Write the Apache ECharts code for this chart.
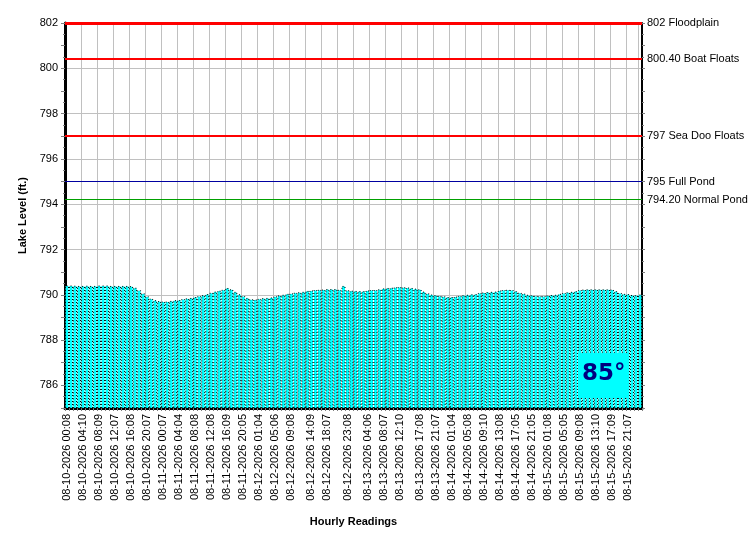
<!DOCTYPE html>
<html lang="en" style="height: 100%">
<head>
  <meta charset="utf-8">
</head>
<body style="height: 100%; margin: 0; background: #fff">
  <div id="container" style="width: 750px; height: 550px"></div>

  <script type="text/javascript" src="https://cdn.jsdelivr.net/npm/echarts@6/dist/echarts.min.js"></script>

  <script type="text/javascript">
    // hourly lake level readings (ft.)
    var lakeLevel = [
      790.41, 790.41, 790.40, 790.39, 790.39, 790.40, 790.39, 790.39, 790.41, 790.41,
      790.41, 790.39, 790.39, 790.39, 790.39, 790.39, 790.38, 790.31, 790.20, 790.06,
      789.93, 789.83, 789.76, 789.72, 789.70, 789.70, 789.73, 789.76, 789.77, 789.81,
      789.84, 789.86, 789.90, 789.94, 789.98, 790.03, 790.09, 790.14, 790.18, 790.22,
      790.30, 790.24, 790.13, 790.02, 789.94, 789.86, 789.80, 789.79, 789.82, 789.85,
      789.86, 789.88, 789.93, 789.97, 790.00, 790.04, 790.06, 790.09, 790.11, 790.13,
      790.17, 790.19, 790.21, 790.22, 790.23, 790.25, 790.25, 790.25, 790.22, 790.39,
      790.20, 790.18, 790.17, 790.16, 790.16, 790.19, 790.21, 790.21, 790.24, 790.28,
      790.30, 790.31, 790.33, 790.34, 790.33, 790.32, 790.30, 790.27, 790.24, 790.14,
      790.06, 790.01, 789.98, 789.95, 789.93, 789.90, 789.90, 789.92, 789.95, 789.98,
      790.00, 790.02, 790.03, 790.08, 790.10, 790.12, 790.13, 790.14, 790.19, 790.21,
      790.22, 790.21, 790.16, 790.09, 790.05, 790.00, 789.98, 789.95, 789.94, 789.94,
      789.97, 789.99, 790.00, 790.04, 790.08, 790.11, 790.13, 790.16, 790.21, 790.23,
      790.24, 790.24, 790.24, 790.24, 790.24, 790.24, 790.23, 790.16, 790.08, 790.04,
      790.03, 789.99, 789.98, 790.01
    ];

    // which readings carry a time label, and the label text
    var labelIndex = [0, 4, 8, 12, 16, 20, 24, 28, 32, 36, 40, 44, 48, 52, 56, 61, 65, 70,
      75, 79, 83, 88, 92, 96, 100, 104, 108, 112, 116, 120, 124, 128, 132, 136, 140];
    var labelText = [
      '08-10-2026 00:08', '08-10-2026 04:10', '08-10-2026 08:09', '08-10-2026 12:07',
      '08-10-2026 16:08', '08-10-2026 20:07', '08-11-2026 00:07', '08-11-2026 04:04',
      '08-11-2026 08:08', '08-11-2026 12:08', '08-11-2026 16:09', '08-11-2026 20:05',
      '08-12-2026 01:04', '08-12-2026 05:06', '08-12-2026 09:08', '08-12-2026 14:09',
      '08-12-2026 18:07', '08-12-2026 23:08', '08-13-2026 04:06', '08-13-2026 08:07',
      '08-13-2026 12:10', '08-13-2026 17:08', '08-13-2026 21:07', '08-14-2026 01:04',
      '08-14-2026 05:08', '08-14-2026 09:10', '08-14-2026 13:08', '08-14-2026 17:05',
      '08-14-2026 21:05', '08-15-2026 01:08', '08-15-2026 05:05', '08-15-2026 09:08',
      '08-15-2026 13:10', '08-15-2026 17:09', '08-15-2026 21:07'
    ];

    // reference levels on the right side
    var refValues = [802, 800.4, 797, 795, 794.2];
    var refNames = ['802 Floodplain', '800.40 Boat Floats', '797 Sea Doo Floats', '795 Full Pond', '794.20 Normal Pond'];
    var refColors = ['#ff0000', '#ff0000', '#ff0000', '#0000a0', '#00a000'];
    var refWidths = [3, 2, 2, 1, 1];

    var tempText = '85\u00b0';

    var labelMap = {};
    labelIndex.forEach(function (idx, i) { labelMap[idx] = labelText[i]; });
    var categories = lakeLevel.map(function (v, i) { return String(i); });

    var font = 'Liberation Sans';

    var dom = document.getElementById('container');
    var myChart = echarts.init(dom, null, { renderer: 'canvas' });

    var option = {
      animation: false,
      backgroundColor: '#ffffff',
      textStyle: { fontFamily: font },
      graphic: [
        {
          type: 'rect',
          left: 578,
          top: 353,
          z: 100,
          shape: { width: 49, height: 45 },
          style: { fill: '#00ffff' }
        },
        {
          type: 'text',
          left: 582,
          top: 363,
          z: 101,
          style: {
            text: tempText,
            fill: '#000080',
            font: 'bold 23px "DejaVu Sans"'
          }
        }
      ],
      grid: { left: 65, right: 108, top: 23, bottom: 142, containLabel: false },
      xAxis: {
        type: 'category',
        data: categories,
        boundaryGap: true,
        name: 'Hourly Readings',
        nameLocation: 'middle',
        nameGap: 108,
        nameTextStyle: { color: '#000', fontSize: 11, fontWeight: 'bold', fontFamily: font },
        axisLine: { show: true, onZero: false, lineStyle: { color: '#000', width: 3 } },
        axisTick: { show: true, interval: 0, length: 3, lineStyle: { color: '#808080' } },
        axisLabel: {
          interval: 0,
          rotate: 90,
          margin: 6,
          color: '#000',
          fontSize: 11,
          fontFamily: font,
          formatter: function (v, idx) { return labelMap[idx] || ''; }
        },
        splitLine: { show: true, interval: 3, lineStyle: { color: '#c0c0c0', width: 1 } }
      },
      yAxis: [
        {
          type: 'value',
          min: 785,
          max: 802,
          interval: 1,
          name: 'Lake Level (ft.)',
          nameLocation: 'middle',
          nameGap: 29,
          nameRotate: 90,
          nameTextStyle: { color: '#000', fontSize: 11, fontWeight: 'bold', fontFamily: font },
          axisLine: { show: true, lineStyle: { color: '#000', width: 3 } },
          axisTick: { show: true, length: 4, lineStyle: { color: '#808080' } },
          minorTick: { show: true, splitNumber: 2, length: 2, lineStyle: { color: '#808080' } },
          axisLabel: {
            margin: 7,
            color: '#000',
            fontSize: 11,
            fontFamily: font,
            formatter: function (v) { return v % 2 === 0 ? String(v) : ''; }
          },
          splitLine: { show: true, lineStyle: { color: ['rgba(0,0,0,0)', '#c0c0c0'], width: 1 } }
        },
        {
          type: 'value',
          position: 'right',
          min: 785,
          max: 802,
          interval: 1,
          axisLine: { show: true, lineStyle: { color: '#000', width: 2 } },
          axisTick: { show: true, length: 3, lineStyle: { color: '#808080' } },
          minorTick: { show: true, splitNumber: 2, length: 2, lineStyle: { color: '#808080' } },
          axisLabel: { show: false },
          splitLine: { show: false }
        }
      ],
      series: [
        {
          type: 'bar',
          data: lakeLevel,
          barCategoryGap: '0%',
          itemStyle: {
            color: '#00ffff',
            borderColor: '#000',
            borderWidth: 1,
            borderType: [1, 2]
          },
          emphasis: { disabled: true },
          markLine: {
            silent: true,
            symbol: 'none',
            animation: false,
            data: refValues.map(function (v, i) {
              return {
                yAxis: v,
                lineStyle: { color: refColors[i], width: refWidths[i], type: 'solid' },
                label: {
                  show: true,
                  position: 'end',
                  distance: 5,
                  color: '#000',
                  fontSize: 11,
                  fontFamily: font,
                  formatter: refNames[i]
                }
              };
            })
          }
        }
      ]
    };

    myChart.setOption(option);
    window.addEventListener('resize', myChart.resize);
  </script>
</body>
</html>
